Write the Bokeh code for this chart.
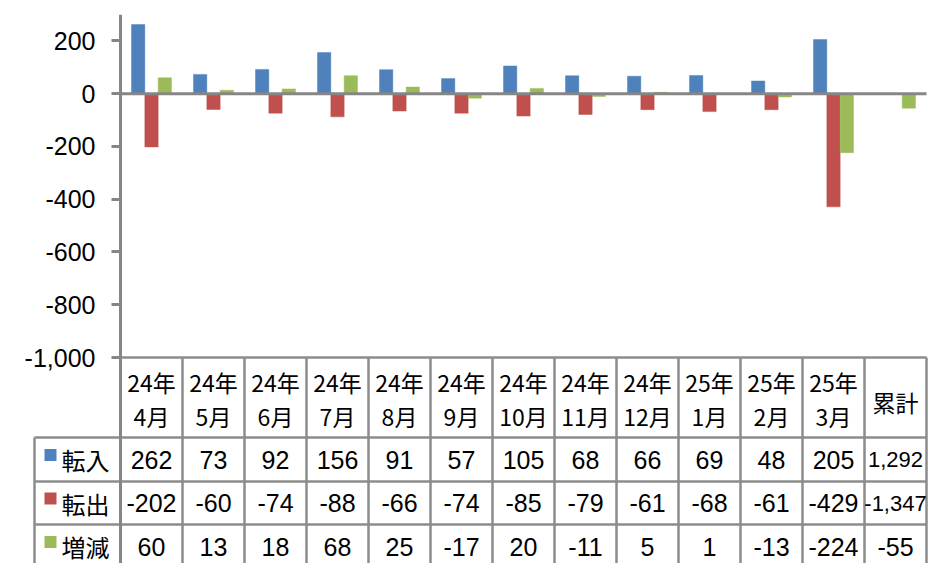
from bokeh.plotting import figure
from bokeh.models import (Range1d, FixedTicker, NumeralTickFormatter, ColumnDataSource, LinearAxis)
from bokeh.core.properties import value
from bokeh.embed import file_html
from bokeh.resources import INLINE

# ---- data ----
categories = ["24年\n4月", "24年\n5月", "24年\n6月", "24年\n7月", "24年\n8月", "24年\n9月",
              "24年\n10月", "24年\n11月", "24年\n12月", "25年\n1月", "25年\n2月", "25年\n3月", "累計"]
series_names = ["転入", "転出", "増減"]
inflow = [262, 73, 92, 156, 91, 57, 105, 68, 66, 69, 48, 205, 1292]
outflow = [-202, -60, -74, -88, -66, -74, -85, -79, -61, -68, -61, -429, -1347]
net = [60, 13, 18, 68, 25, -17, 20, -11, 5, 1, -13, -224, -55]
# the chart itself omits the 累計 totals of 転入 and 転出 (only 増減 is drawn there)
in_chart = [[True] * 12 + [False], [True] * 12 + [False], [True] * 13]
colors = ["#4F81BD", "#C0504D", "#9BBB59"]
y_ticks = [-1000, -800, -600, -400, -200, 0, 200]

series = [inflow, outflow, net]
n = len(categories)

# ---- layout constants (window pixels) ----
W, H = 928, 563
AXIS_X, FT = 120, 14        # axis position / frame top
COL = 62                    # px per category
Y_TOP, Y_BOT = 300, -1000   # chart value range
Y_BOT_PX = 357              # pixel row of -1000
PPU = (Y_BOT_PX - FT) / (Y_TOP - Y_BOT)


def py(ypx):
    return Y_TOP - (ypx - FT) / PPU


def px(xpx):
    return (xpx - AXIS_X) / COL


AX = "#868686"
GRID = "#8C8C8C"
NUMFONT = value("Liberation Sans")
JPFONT = value("Noto Sans CJK JP")

p = figure(width=W, height=H, x_range=Range1d(px(0), px(W)), y_range=Range1d(py(H), Y_TOP),
           output_backend="svg", toolbar_location=None, x_axis_location=None, y_axis_location=None,
           min_border_left=0, min_border_right=0, min_border_top=FT, min_border_bottom=0)
p.xgrid.visible = False
p.ygrid.visible = False
p.outline_line_color = None

ax = LinearAxis(fixed_location=0)
ax.ticker = FixedTicker(ticks=y_ticks)
ax.formatter = NumeralTickFormatter(format="0,0")
ax.major_label_text_font = "Liberation Sans"
ax.major_label_text_font_size = "25px"
ax.major_label_text_color = "black"
ax.axis_line_color = AX
ax.axis_line_width = 3
ax.major_tick_line_color = AX
ax.major_tick_line_width = 3
ax.major_tick_out = 9
ax.major_tick_in = 0
ax.minor_tick_line_color = None
ax.major_label_standoff = 16
p.add_layout(ax, "left")

# ---- bars ----
bw = 0.215
offsets = [-bw, 0.0, bw]
for vals, mask, col, off in zip(series, in_chart, colors, offsets):
    xs = [i + 0.5 + off for i in range(n) if mask[i]]
    tops = [vals[i] for i in range(n) if mask[i]]
    p.vbar(x=xs, top=tops, bottom=0, width=bw, fill_color=col, line_color=col, line_alpha=0.45)

# zero line
p.segment(x0=[0], y0=[0], x1=[n], y1=[0], line_color=AX, line_width=3)

# ---- data table ----
row_lines = [437, 481, 524]
row_centers = [459, 502.5, 546]
LEG_L = 34

# header top line and column lines
p.segment(x0=[0], y0=[py(Y_BOT_PX)], x1=[n], y1=[py(Y_BOT_PX)], line_color=GRID, line_width=2.5)
vx = list(range(1, n + 1))
p.segment(x0=vx, y0=[py(Y_BOT_PX)] * len(vx), x1=vx, y1=[py(H)] * len(vx),
          line_color=GRID, line_width=2.5)
# row lines and legend-column border
p.segment(x0=[px(LEG_L)] * 3, y0=[py(v) for v in row_lines], x1=[n] * 3,
          y1=[py(v) for v in row_lines], line_color=GRID, line_width=2.5)
p.segment(x0=[px(LEG_L)], y0=[py(row_lines[0])], x1=[px(LEG_L)], y1=[py(H)],
          line_color=GRID, line_width=2.5)

# header labels
cx = [i + 0.5 for i in range(n)]
two = [c.split("\n") for c in categories]
c2 = [i for i, c in enumerate(two) if len(c) == 2]
c1 = [i for i, c in enumerate(two) if len(c) == 1]
p.text(x=[cx[i] for i in c2], y=[py(381.5)] * len(c2), text=[two[i][0] for i in c2],
       text_font=JPFONT, text_font_size="23px", text_align="center", text_baseline="middle")
p.text(x=[cx[i] for i in c2], y=[py(415)] * len(c2), text=[two[i][1] for i in c2],
       text_font=JPFONT, text_font_size="23px", text_align="center", text_baseline="middle")
p.text(x=[cx[i] for i in c1], y=[py(401)] * len(c1), text=[two[i][0] for i in c1],
       text_font=JPFONT, text_font_size="23px", text_align="center", text_baseline="middle")

# legend column
p.quad(left=[px(44)] * 3, right=[px(56)] * 3, top=[py(v - 10.5) for v in row_centers],
       bottom=[py(v + 1.5) for v in row_centers], fill_color=colors, line_color=None)
p.text(x=[px(61)] * 3, y=[py(v) for v in row_centers], text=series_names, text_font=JPFONT,
       text_font_size="24px", text_align="left", text_baseline="middle")

# values
for vals, yc in zip(series, row_centers):
    labels = [f"{v:,}" for v in vals]
    sizes = ["25px"] * (n - 1) + ["22px" if len(labels[-1]) > 4 else "25px"]
    src = ColumnDataSource(dict(x=cx, y=[py(yc)] * n, t=labels, s=sizes))
    p.text(x="x", y="y", text="t", text_font_size="s", source=src, text_font=NUMFONT,
           text_align="center", text_baseline="middle")

open("out.html", "w").write(file_html(p, INLINE))
